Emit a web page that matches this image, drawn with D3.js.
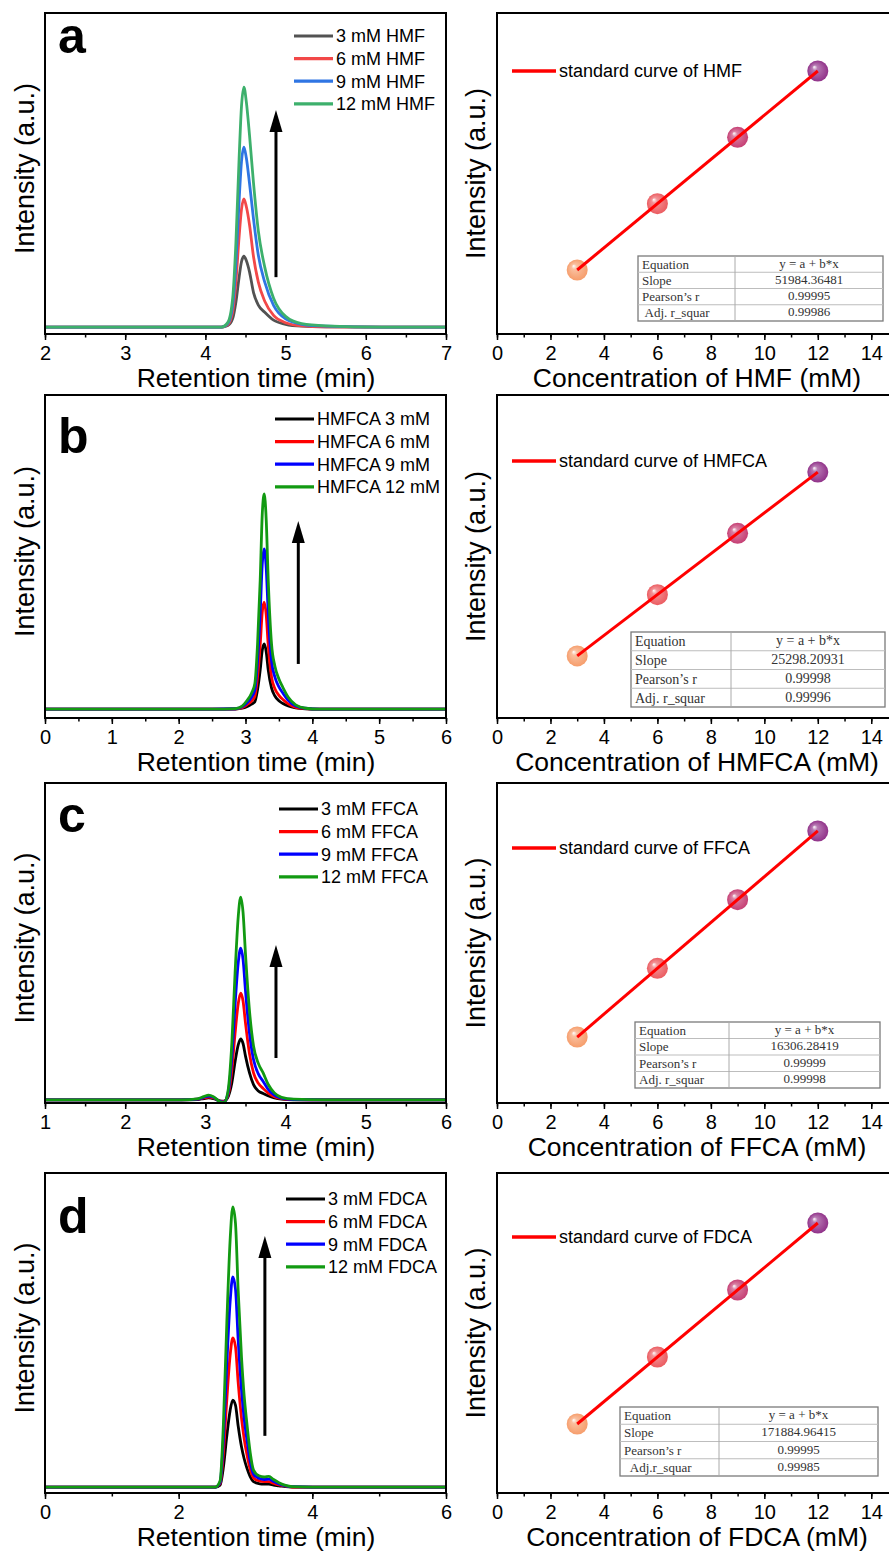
<!DOCTYPE html>
<html>
<head>
<meta charset="utf-8">
<script src="https://cdn.jsdelivr.net/npm/d3@7"></script>
<style>
  body { margin: 0; background: #fff; }
  svg { display: block; font-family: "Liberation Sans", Arial, sans-serif; }
</style>
</head>
<body>
<div id="chart"></div>
<script>
const width = 889, height = 1553;

//data: chromatograms (retention time in min, intensity in a.u.)
const concentrations = [3, 6, 9, 12];

const timeA = [2, 3.4, 3.8, 4.2, 4.28, 4.34, 4.38, 4.42, 4.45, 4.48, 4.51, 4.55, 4.6, 4.66, 4.74, 4.85, 5.0, 5.2, 5.5, 6.2, 7];
const hmf3 = [0, 0, 0, 0, 0.5, 2.7, 7.9, 15.8, 20.8, 22.6, 21.2, 17.6, 11.0, 7.0, 4.7, 2.2, 0.9, 0.3, 0.1, 0, 0];
const hmf6 = [0, 0, 0, 0, 0.8, 4.9, 14.3, 28.6, 37.5, 40.8, 38.4, 32.6, 22.4, 14.3, 8.2, 3.7, 1.4, 0.4, 0.1, 0, 0];
const hmf9 = [0, 0, 0, 0, 1.1, 6.9, 20.1, 40.1, 52.7, 57.3, 53.9, 45.8, 34.4, 22.9, 14.3, 6.9, 2.6, 0.9, 0.3, 0, 0];
const hmf12 = [0, 0, 0, 0, 1.5, 9.2, 26.7, 53.5, 70.3, 76.4, 71.8, 61.1, 45.8, 30.6, 19.1, 9.2, 3.4, 1.1, 0.4, 0, 0];
const hmfNames = ["3 mM HMF", "6 mM HMF", "9 mM HMF", "12 mM HMF"];

const timeB = [0, 1.5, 2.5, 2.85, 2.95, 3.02, 3.09, 3.14, 3.18, 3.22, 3.25, 3.28, 3.31, 3.34, 3.39, 3.44, 3.5, 3.56, 3.64, 3.75, 3.9, 4.1, 4.6, 6];
const hmfca3 = [0, 0, 0, 0.05, 0.3, 0.8, 1.6, 2.4, 6.2, 12.5, 18.7, 20.8, 18.3, 12.5, 6.7, 4.2, 2.7, 1.8, 1.0, 0.4, 0.1, 0, 0, 0];
const hmfca6 = [0, 0, 0, 0.1, 0.5, 1.4, 2.6, 4.1, 10.2, 20.5, 30.7, 34.1, 30.0, 20.5, 10.2, 6.5, 4.4, 3.1, 1.7, 0.6, 0.2, 0, 0, 0];
const hmfca9 = [0, 0, 0, 0.15, 0.8, 2.0, 3.8, 6.1, 15.3, 30.6, 45.9, 51.0, 44.9, 30.6, 15.3, 10.2, 7.1, 5.1, 2.8, 1.0, 0.3, 0, 0, 0];
const hmfca12 = [0, 0, 0, 0.2, 1.0, 2.7, 5.1, 8.2, 20.6, 41.1, 61.7, 68.5, 60.3, 41.1, 20.6, 13.7, 9.6, 6.9, 3.8, 1.4, 0.3, 0, 0, 0];
const hmfcaNames = ["HMFCA 3 mM", "HMFCA 6 mM", "HMFCA 9 mM", "HMFCA 12 mM"];

const timeC = [1, 2.7, 2.9, 2.98, 3.04, 3.1, 3.18, 3.23, 3.28, 3.33, 3.37, 3.41, 3.44, 3.47, 3.5, 3.55, 3.6, 3.66, 3.72, 3.78, 3.86, 3.95, 4.1, 4.5, 6];
const ffca3 = [0, 0, 0.1, 0.4, 0.6, 0.4, -0.3, -0.4, 0.8, 5.4, 12, 17.4, 19.2, 17.7, 13.8, 8.5, 4.8, 2.8, 2.0, 1.3, 0.6, 0.2, 0, 0, 0];
const ffca6 = [0, 0, 0.2, 0.6, 0.9, 0.6, -0.4, -0.5, 1.3, 9.5, 21, 30.5, 33.7, 31.1, 24.2, 14.5, 8.5, 5.2, 3.6, 2.2, 1.0, 0.4, 0.1, 0, 0];
const ffca9 = [0, 0, 0.2, 0.8, 1.2, 0.8, -0.5, -0.7, 1.9, 13.5, 30, 43.4, 47.9, 44.2, 34.4, 21, 12.7, 8.2, 5.8, 3.4, 1.5, 0.5, 0.1, 0, 0];
const ffca12 = [0, 0, 0.3, 1.0, 1.5, 1.0, -0.6, -0.9, 2.5, 18, 40, 58, 64, 59, 46, 28, 17, 11.5, 8.5, 5, 2.2, 0.8, 0.2, 0, 0];
const ffcaNames = ["3 mM FFCA", "6 mM FFCA", "9 mM FFCA", "12 mM FFCA"];

const timeD = [0, 2.0, 2.55, 2.62, 2.67, 2.72, 2.77, 2.81, 2.85, 2.89, 2.94, 2.98, 3.02, 3.07, 3.12, 3.2, 3.28, 3.35, 3.42, 3.5, 3.6, 3.7, 4.0, 6];
const fdca3 = [0, 0, 0, 0.6, 6.4, 16.2, 24.4, 27.7, 26.1, 19.5, 12.8, 9.0, 6.1, 3.3, 1.7, 1.1, 0.9, 0.9, 0.6, 0.4, 0.1, 0, 0, 0];
const fdca6 = [0, 0, 0, 1.1, 10.9, 27.7, 41.9, 47.5, 44.7, 33.4, 22, 15.4, 10.5, 5.6, 2.9, 2.0, 1.7, 1.7, 1.2, 0.7, 0.3, 0, 0, 0];
const fdca9 = [0, 0, 0, 1.5, 15.3, 39, 59, 66.9, 63, 47, 31, 21.7, 15.3, 8.2, 4.1, 2.8, 2.4, 2.5, 1.8, 1.0, 0.4, 0.1, 0, 0];
const fdca12 = [0, 0, 0, 2, 20.4, 52, 78.7, 89.2, 84, 62.7, 41.4, 29, 20.4, 11, 5.4, 3.6, 3.2, 3.4, 2.4, 1.4, 0.5, 0.1, 0, 0];
const fdcaNames = ["3 mM FDCA", "6 mM FDCA", "9 mM FDCA", "12 mM FDCA"];

//data: standard curves (peak intensity vs concentration)
const hmfArea = [157950, 313900, 469860, 625810];
const hmfcaArea = [76390, 152290, 228180, 304080];
const ffcaArea = [49220, 98140, 147060, 195980];
const fdcaArea = [516650, 1032310, 1547970, 2063620];

const fitLabels = ["Equation", "Slope", "Pearson\u2019s r", "Adj. r_squar"];
const hmfFit = ["y = a + b*x", "51984.36481", "0.99995", "0.99986"];
const hmfcaFit = ["y = a + b*x", "25298.20931", "0.99998", "0.99996"];
const ffcaFit = ["y = a + b*x", "16306.28419", "0.99999", "0.99998"];
const fdcaFit = ["y = a + b*x", "171884.96415", "0.99995", "0.99985"];

//style
const colorsA = ["#525252", "#f24848", "#2f75e3", "#3db06c"];
const colorsB = ["#000000", "#ff0000", "#0000ff", "#129a12"];
const sphereColors = ["#f5955f", "#e94d52", "#c02d67", "#87207f"];

const rows = [
  {
    letter: "a", letterY: 53, top: 13, bottom: 334,
    time: timeA, series: [hmf3, hmf6, hmf9, hmf12], names: hmfNames, colors: colorsA,
    xDomain: [2, 7], xMajor: d3.range(2, 7.01, 1), xMinor: d3.range(2, 7.01, 0.5), yDomain: [-2.2, 100],
    arrow: { x: 4.88, y0: 15.9, y1: 69.1 }, legend: { x: 294, y: 36 },
    compound: "HMF", area: hmfArea, yStd: [7400, 762240], fit: hmfFit,
    labels: ["Equation", "Slope", "Pearson\u2019s r", " Adj. r_squar"],
    table: { x: 638, y: 256, w: 245, h: 65, split: 735, fs: 13 }, stdLegendY: 71
  },
  {
    letter: "b", letterY: 453, top: 395, bottom: 718,
    time: timeB, series: [hmfca3, hmfca6, hmfca9, hmfca12], names: hmfcaNames, colors: colorsB,
    xDomain: [0, 6], xMajor: d3.range(0, 6.01, 1), xMinor: d3.range(0, 6.01, 0.5), yDomain: [-2.8, 100],
    arrow: { x: 3.79, y0: 14.4, y1: 59.9 }, legend: { x: 275, y: 419 },
    compound: "HMFCA", area: hmfcaArea, yStd: [-500, 399570], fit: hmfcaFit,
    labels: fitLabels,
    table: { x: 631, y: 632, w: 254, h: 75, split: 731, fs: 14 }, stdLegendY: 461
  },
  {
    letter: "c", letterY: 832, top: 783, bottom: 1103,
    time: timeC, series: [ffca3, ffca6, ffca9, ffca12], names: ffcaNames, colors: colorsB,
    xDomain: [1, 6], xMajor: d3.range(1, 6.01, 1), xMinor: d3.range(1, 6.01, 0.5), yDomain: [-1, 100],
    arrow: { x: 3.88, y0: 13.2, y1: 48.9 }, legend: { x: 279, y: 809 },
    compound: "FFCA", area: ffcaArea, yStd: [2220, 230160], fit: ffcaFit,
    labels: fitLabels,
    table: { x: 635, y: 1022, w: 245, h: 66, split: 729, fs: 13 }, stdLegendY: 848
  },
  {
    letter: "d", letterY: 1233, top: 1173, bottom: 1493,
    time: timeD, series: [fdca3, fdca6, fdca9, fdca12], names: fdcaNames, colors: colorsB,
    xDomain: [0, 6], xMajor: d3.range(0, 6.01, 2), xMinor: d3.range(0, 6.01, 1), yDomain: [-1.9, 100],
    arrow: { x: 3.29, y0: 16.3, y1: 79.9 }, legend: { x: 286, y: 1199 },
    compound: "FDCA", area: fdcaArea, yStd: [-14470, 2448500], fit: fdcaFit,
    labels: ["Equation", "Slope", "Pearson\u2019s r", "  Adj.r_squar"],
    table: { x: 620, y: 1407, w: 258, h: 69, split: 719, fs: 13 }, stdLegendY: 1237
  }
];

//size
const leftRange = [45, 446];
const rightRange = [497, 898];
const titleOffset = 53;

//create element
const svg = d3.select("#chart").append("svg")
  .attr("width", width).attr("height", height)
  .attr("viewBox", [0, 0, width, height]);

const defs = svg.append("defs");
sphereColors.forEach((c, i) => {
  const g = defs.append("radialGradient").attr("id", "sph" + i)
    .attr("cx", "50%").attr("cy", "50%").attr("r", "50%")
    .attr("fx", "32%").attr("fy", "30%");
  g.append("stop").attr("offset", "0%").attr("stop-color", "#ffffff");
  g.append("stop").attr("offset", "25%").attr("stop-color", d3.interpolateRgb(c, "#fff")(0.35));
  g.append("stop").attr("offset", "100%").attr("stop-color", c);
});

function drawXAxis(g, x, bottom, major, minor) {
  g.append("g")
    .attr("transform", `translate(0,${bottom})`)
    .call(d3.axisBottom(x).tickValues(minor).tickSize(3.5).tickFormat(""))
    .call((a) => a.select(".domain").remove())
    .call((a) => a.selectAll("line").attr("stroke-width", 1.5));
  g.append("g")
    .attr("transform", `translate(0,${bottom})`)
    .call(d3.axisBottom(x).tickValues(major).tickSize(6).tickPadding(5.5).tickFormat(d3.format("d")))
    .call((a) => a.select(".domain").remove())
    .call((a) => a.selectAll("line").attr("stroke-width", 1.5))
    .call((a) => a.selectAll("text").attr("font-size", 20).attr("fill", "#000")
      .attr("font-family", '"Liberation Sans", Arial, sans-serif'));
}

rows.forEach((r, ri) => {
  //---- chromatogram ----
  const g = svg.append("g");
  const x = d3.scaleLinear().domain(r.xDomain).range(leftRange);
  const y = d3.scaleLinear().domain(r.yDomain).range([r.bottom, r.top]);

  const clipId = "clipL" + ri;
  defs.append("clipPath").attr("id", clipId).append("rect")
    .attr("x", leftRange[0]).attr("y", r.top)
    .attr("width", leftRange[1] - leftRange[0]).attr("height", r.bottom - r.top);

  const line = d3.line()
    .x((d) => x(d[0]))
    .y((d) => y(d[1]))
    .curve(d3.curveMonotoneX);

  g.append("g").attr("clip-path", `url(#${clipId})`)
    .selectAll("path")
    .data(r.series)
    .join("path")
    .attr("d", (s) => line(s.map((v, i) => [r.time[i], v])))
    .attr("fill", "none")
    .attr("stroke", (s, i) => r.colors[i])
    .attr("stroke-width", 2.8)
    .attr("stroke-linejoin", "round");

  //arrow
  const ax = x(r.arrow.x), ay0 = y(r.arrow.y0), ay1 = y(r.arrow.y1);
  g.append("line")
    .attr("x1", ax).attr("x2", ax).attr("y1", ay0).attr("y2", ay1 + 18)
    .attr("stroke", "#000").attr("stroke-width", 3);
  g.append("path")
    .attr("d", `M${ax},${ay1} L${ax - 6.5},${ay1 + 22} L${ax + 6.5},${ay1 + 22} Z`)
    .attr("fill", "#000");

  //frame
  g.append("rect")
    .attr("x", leftRange[0]).attr("y", r.top)
    .attr("width", leftRange[1] - leftRange[0]).attr("height", r.bottom - r.top)
    .attr("fill", "none").attr("stroke", "#000").attr("stroke-width", 2);

  drawXAxis(g, x, r.bottom, r.xMajor, r.xMinor);

  //legend
  const lg = g.append("g").selectAll("g").data(r.names).join("g")
    .attr("transform", (d, i) => `translate(${r.legend.x},${r.legend.y + i * 22.6})`);
  lg.append("line").attr("x1", 0).attr("x2", 39)
    .attr("stroke", (d, i) => r.colors[i]).attr("stroke-width", 3.2);
  lg.append("text").attr("x", 42).attr("dy", "0.35em")
    .attr("font-size", 18).text((d) => d);

  //panel letter
  g.append("text").attr("x", 58).attr("y", r.letterY)
    .attr("font-size", 50).attr("font-weight", "bold").text(r.letter);

  //titles
  g.append("text")
    .attr("transform", `translate(25,${(r.top + r.bottom) / 2 - 5}) rotate(-90)`)
    .attr("text-anchor", "middle").attr("dy", "0.35em")
    .attr("font-size", 27).text("Intensity (a.u.)");
  g.append("text")
    .attr("x", 256).attr("y", r.bottom + titleOffset)
    .attr("text-anchor", "middle").attr("font-size", 26.5)
    .text("Retention time (min)");

  //---- standard curve ----
  const h = svg.append("g");
  const xs = d3.scaleLinear().domain([0, 15]).range(rightRange);
  const ys = d3.scaleLinear().domain(r.yStd).range([r.bottom, r.top]);

  //least squares fit of the points
  const mx = d3.mean(concentrations), my = d3.mean(r.area);
  const b = d3.sum(concentrations, (c, i) => (c - mx) * (r.area[i] - my)) /
    d3.sum(concentrations, (c) => (c - mx) ** 2);
  const a = my - b * mx;
  const cEnds = d3.extent(concentrations);

  h.selectAll("circle")
    .data(r.area)
    .join("circle")
    .attr("cx", (d, i) => xs(concentrations[i]))
    .attr("cy", (d) => ys(d))
    .attr("r", 10.5)
    .attr("fill", (d, i) => `url(#sph${i})`)
    .attr("opacity", 0.92);

  h.append("line")
    .attr("x1", xs(cEnds[0])).attr("y1", ys(a + b * cEnds[0]))
    .attr("x2", xs(cEnds[1])).attr("y2", ys(a + b * cEnds[1]))
    .attr("stroke", "#ff0000").attr("stroke-width", 3);

  //frame
  h.append("rect")
    .attr("x", rightRange[0]).attr("y", r.top)
    .attr("width", rightRange[1] - rightRange[0]).attr("height", r.bottom - r.top)
    .attr("fill", "none").attr("stroke", "#000").attr("stroke-width", 2);

  drawXAxis(h, xs, r.bottom, d3.range(0, 14.01, 2), d3.range(0, 15.01, 1));

  //legend
  h.append("line")
    .attr("x1", 512).attr("x2", 556).attr("y1", r.stdLegendY).attr("y2", r.stdLegendY)
    .attr("stroke", "#ff0000").attr("stroke-width", 3.5);
  h.append("text").attr("x", 559).attr("y", r.stdLegendY).attr("dy", "0.35em")
    .attr("font-size", 18).text("standard curve of " + r.compound);

  //table
  const t = r.table;
  const tg = h.append("g")
    .attr("font-family", '"Liberation Serif", "DejaVu Serif", serif')
    .attr("font-size", t.fs).attr("fill", "#333");
  tg.append("rect").attr("x", t.x).attr("y", t.y).attr("width", t.w).attr("height", t.h)
    .attr("fill", "#fff").attr("stroke", "#7a7a7a").attr("stroke-width", 1.3);
  const rh = t.h / 4;
  d3.range(1, 4).forEach((k) => {
    tg.append("line").attr("x1", t.x).attr("x2", t.x + t.w)
      .attr("y1", t.y + k * rh).attr("y2", t.y + k * rh)
      .attr("stroke", "#bdbdbd").attr("stroke-width", 1);
  });
  tg.append("line").attr("x1", t.split).attr("x2", t.split)
    .attr("y1", t.y).attr("y2", t.y + t.h)
    .attr("stroke", "#aaaaaa").attr("stroke-width", 1);
  r.labels.forEach((lab, k) => {
    tg.append("text").attr("x", t.x + 4).attr("y", t.y + (k + 0.5) * rh)
      .attr("dy", "0.35em").attr("xml:space", "preserve")
      .style("white-space", "pre").text(lab);
    tg.append("text").attr("x", (t.split + t.x + t.w) / 2).attr("y", t.y + (k + 0.5) * rh - 1)
      .attr("dy", "0.35em").attr("text-anchor", "middle").text(r.fit[k]);
  });

  //titles
  h.append("text")
    .attr("transform", `translate(476,${(r.top + r.bottom) / 2}) rotate(-90)`)
    .attr("text-anchor", "middle").attr("dy", "0.35em")
    .attr("font-size", 27).text("Intensity (a.u.)");
  h.append("text")
    .attr("x", 697).attr("y", r.bottom + titleOffset)
    .attr("text-anchor", "middle").attr("font-size", 26.5)
    .text(`Concentration of ${r.compound} (mM)`);
});
</script>
</body>
</html>
